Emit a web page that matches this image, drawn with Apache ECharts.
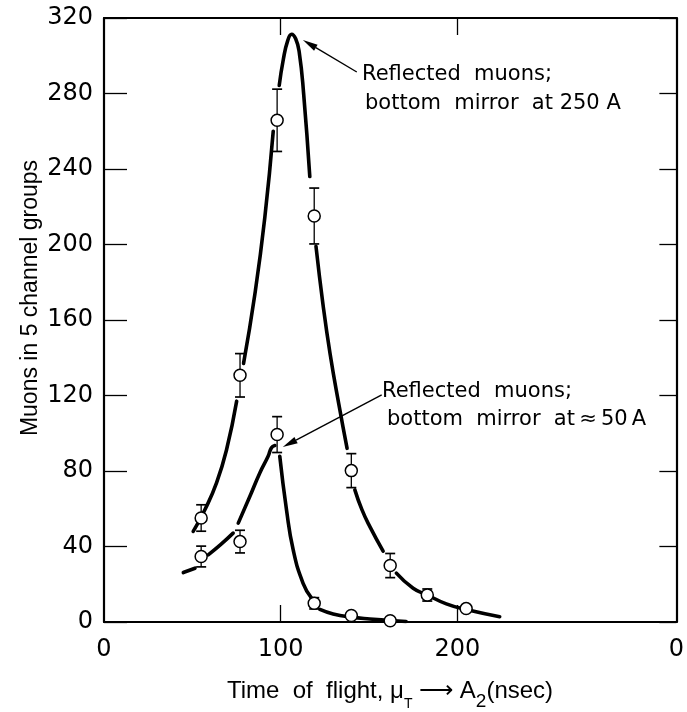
<!DOCTYPE html>
<html><head><meta charset="utf-8">
<script src="https://cdn.jsdelivr.net/npm/echarts@6/dist/echarts.min.js"></script>
<style>html,body{margin:0;padding:0;background:#fff}#c{width:687px;height:712px}</style>
</head><body><div id="c"></div>
<script>
// ---- data ----
const xTickValues = [0, 100, 200, 324];
const xTickLabels = ['0', '100', '200', '0'];
const yTickValues = [0, 40, 80, 120, 160, 200, 240, 280, 320];

const timeOfFlight = [55, 77, 98, 119, 140, 162, 183, 205];
const muons250 = [55.1, 130.7, 265.8, 215.1, 80.2, 29.9, 14.3, 7.1];
const err250   = [7, 11.5, 16.5, 14.8, 9, 6.4, 3.2, 0];
const muons50  = [34.7, 42.6, 99.3, 9.9, 3.4, 0.7];
const err50    = [5.5, 6, 9.5, 3, 0, 0];

// hand-drawn fitted curves (segments, gaps around error bars)
const curve250 = [
  [[50.5,48],[57.1,59.5],[63.7,73.7],[69.4,91.4],[75.1,117]],
  [[79,137],[85.4,173.6],[91,214],[95.8,260]],
  [[99.2,284.3],[101.5,298],[104,308],[106.2,311.4],[108.5,309],[110.5,302],[113,280],[116.5,236]],
  [[120,199],[124,168],[128,142],[133,115],[137.6,92]],
  [[142,70],[146,59.5],[150.5,50.5],[158,37.5]],
  [[165.5,25.9],[175,17.9],[183,14.3],[193.8,9.6],[205,6.6],[224,2.8]]
];
const curve50 = [
  [[44.9,26.2],[51.5,28.5]],
  [[59,35.6],[66,41],[73.1,47.1]],
  [[76,52.4],[82.6,66.6],[88.2,79],[92.9,87.8],[94.8,92.3],[96.7,93.5]],
  [[99.5,87.8],[103.3,59.5],[107.1,38.2],[112.7,20.5],[117.5,12.6]],
  [[122.2,6.7],[129.7,4.3],[140,2.6],[150.5,1.6],[162,0.8],[171,0.3]]
];

const annot250 = ['Reflected  muons;', 'bottom  mirror  at 250 A'];
const annot50  = ['Reflected  muons;', 'bottom  mirror  at\u2009\u2248\u200950\u2009A'];
const arrow250 = {tail: [143.1, 291.4], tip: [112.6, 308.3]};
const arrow50  = {tail: [157.2, 120.3], tip: [101.2, 92.7]};

const yTitle = 'Muons in 5 channel groups';

// ---- chart ----
const chart = echarts.init(document.getElementById('c'));
const F = 'DejaVu Sans';
const F2 = 'Liberation Sans';

function errData(xs, ys, es) {
  const out = [];
  ys.forEach((y, i) => { if (es[i] > 0) out.push([xs[i], y - es[i], y + es[i]]); });
  return out;
}
function pts(xs, ys) { return ys.map((y, i) => [xs[i], y]); }

const series = [];
curve250.concat(curve50).forEach(seg => series.push({
  type: 'line', data: seg, smooth: 0.5, showSymbol: false, symbol: 'none',
  lineStyle: {color: '#000', width: 3.6, cap: 'round'}, z: 2, silent: true
}));
const errRender = function (params, api) {
  const x = api.value(0), lo = api.value(1), hi = api.value(2);
  const p1 = api.coord([x, hi]), p2 = api.coord([x, lo]);
  const w = 5;
  return {type: 'group', children: [
    {type: 'line', shape: {x1: p1[0], y1: p1[1], x2: p2[0], y2: p2[1]}, style: {stroke: '#000', lineWidth: 1.3}},
    {type: 'line', shape: {x1: p1[0]-w, y1: p1[1], x2: p1[0]+w, y2: p1[1]}, style: {stroke: '#000', lineWidth: 1.7}},
    {type: 'line', shape: {x1: p2[0]-w, y1: p2[1], x2: p2[0]+w, y2: p2[1]}, style: {stroke: '#000', lineWidth: 1.7}}
  ]};
};
series.push({type: 'custom', renderItem: errRender, data: errData(timeOfFlight, muons250, err250), z: 3, silent: true});
series.push({type: 'custom', renderItem: errRender, data: errData(timeOfFlight, muons50, err50), z: 3, silent: true});
[muons250, muons50].forEach(ys => series.push({
  type: 'scatter', data: pts(timeOfFlight, ys), symbol: 'circle', symbolSize: 12,
  itemStyle: {color: '#fff', borderColor: '#000', borderWidth: 1.5, opacity: 1}, z: 4, silent: true
}));

chart.setOption({
  animation: false,
  backgroundColor: '#fff',
  grid: {left: 104, top: 18, width: 573, height: 604, containLabel: false},
  xAxis: [{
    type: 'value', min: 0, max: 324, position: 'bottom',
    axisLine: {show: true, onZero: false, lineStyle: {color: '#000', width: 2.2}},
    axisTick: {show: true, inside: true, length: 17, customValues: [100, 200], lineStyle: {color: '#000', width: 1.3}},
    axisLabel: {show: true, customValues: xTickValues, margin: 16, color: '#000', fontFamily: F, fontSize: 24,
      formatter: v => xTickLabels[xTickValues.indexOf(v)] ?? ''},
    splitLine: {show: false}
  }, {
    type: 'value', min: 0, max: 324, position: 'top',
    axisLine: {show: true, onZero: false, lineStyle: {color: '#000', width: 2.2}},
    axisTick: {show: true, inside: true, length: 17, customValues: [100, 200], lineStyle: {color: '#000', width: 1.3}},
    axisLabel: {show: false}, splitLine: {show: false}
  }],
  yAxis: [{
    type: 'value', min: 0, max: 320, interval: 40, position: 'left',
    axisLine: {show: true, onZero: false, lineStyle: {color: '#000', width: 2.2}},
    axisTick: {show: true, inside: true, length: 23, lineStyle: {color: '#000', width: 1.3}},
    axisLabel: {show: true, margin: 11, color: '#000', fontFamily: F, fontSize: 24,
      formatter: v => yTickValues.includes(v) ? String(v) : ''},
    splitLine: {show: false}
  }, {
    type: 'value', min: 0, max: 320, interval: 40, position: 'right',
    axisLine: {show: true, onZero: false, lineStyle: {color: '#000', width: 2.2}},
    axisTick: {show: true, inside: true, length: 17, lineStyle: {color: '#000', width: 1.3}},
    axisLabel: {show: false}, splitLine: {show: false}
  }],
  series: series
});

function arrow(a0, b0) {
  const a = chart.convertToPixel({gridIndex: 0}, a0), b = chart.convertToPixel({gridIndex: 0}, b0);
  const ang = Math.atan2(b[1]-a[1], b[0]-a[0]);
  const L = 15, W = 3.5;
  const bx = b[0] - L*Math.cos(ang), by = b[1] - L*Math.sin(ang);
  const nx = -Math.sin(ang), ny = Math.cos(ang);
  return [
    {type: 'line', shape: {x1: a[0], y1: a[1], x2: bx, y2: by}, style: {stroke: '#000', lineWidth: 1.4}, z: 10},
    {type: 'polygon', shape: {points: [[b[0], b[1]], [bx+nx*W, by+ny*W], [bx-nx*W, by-ny*W]]}, style: {fill: '#000'}, z: 10}
  ];
}
const txt = (s, x, y) => ({type: 'text', x: x, y: y, z: 10,
  style: {text: s, fill: '#000', font: '21px "' + F + '"', textAlign: 'left', textVerticalAlign: 'top'}});

chart.setOption({graphic: [].concat(
  arrow(arrow250.tail, arrow250.tip),
  arrow(arrow50.tail, arrow50.tip),
  [
    txt(annot250[0], 362, 64), txt(annot250[1], 365, 93),
    txt(annot50[0], 382, 381), txt(annot50[1], 387, 409),
    {type: 'text', x: 31, y: 298, rotation: Math.PI/2, z: 10,
      style: {text: yTitle, fill: '#000', font: '23px "' + F2 + '"', textAlign: 'center', textVerticalAlign: 'middle'}},
    {type: 'text', x: 390, y: 671, z: 10,
      style: {text: 'Time  of  flight, \u03bc{s|T} \u27f6 A{s2|2}(nsec)', fill: '#000', textAlign: 'center', textVerticalAlign: 'top',
        font: '24px "' + F2 + '"',
        rich: {s: {fontSize: 14, fontFamily: F2, verticalAlign: 'bottom', lineHeight: 30},
               s2: {fontSize: 19, fontFamily: F2, verticalAlign: 'bottom', lineHeight: 40}}}}
  ])});
</script></body></html>
